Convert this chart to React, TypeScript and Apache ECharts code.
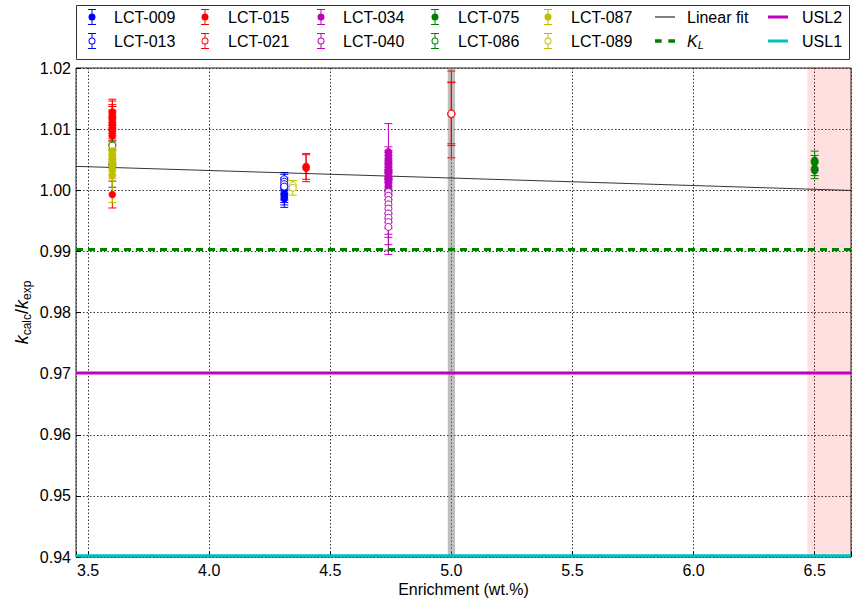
import React, { useEffect, useRef } from "react";
import * as echarts from "echarts";

const FONT = "'Liberation Sans', Arial, Helvetica, sans-serif";

// Axis ranges
const X_MIN = 3.45;
const X_MAX = 6.65;
const Y_MIN = 0.94;
const Y_MAX = 1.02;

// Benchmark results: [enrichment (wt.%), k_calc/k_exp, 1-sigma uncertainty]
const lct009 = [
  [4.31, 0.9995, 0.0011],
  [4.31, 0.9992, 0.0012],
  [4.31, 0.9989, 0.0013],
  [4.31, 0.9986, 0.0014],
];
const lct013 = [
  [4.31, 1.0018, 0.0011],
  [4.31, 1.0014, 0.0012],
  [4.31, 1.001, 0.0011],
  [4.31, 1.0006, 0.0012],
];
const lct015 = [
  [3.6, 1.0128, 0.0021],
  [3.6, 1.0124, 0.0022],
  [3.6, 1.0119, 0.0021],
  [3.6, 1.0115, 0.0022],
  [3.6, 1.011, 0.0021],
  [3.6, 1.0106, 0.0022],
  [3.6, 1.0101, 0.002],
  [3.6, 1.0096, 0.0021],
  [3.6, 1.0089, 0.0022],
  [3.6, 0.9993, 0.0022],
  [4.4, 1.0039, 0.0021],
  [4.4, 1.0036, 0.0022],
];
const lct021 = [
  [5.0, 1.0124, 0.0071],
  [5.0, 1.0126, 0.005],
  [5.0, 1.0125, 0.0052],
];
const lct034 = [
  [4.74, 1.0063, 0.0046],
  [4.74, 1.0058, 0.0013],
  [4.74, 1.0053, 0.0012],
  [4.74, 1.0048, 0.0014],
  [4.74, 1.0044, 0.0013],
  [4.74, 1.0039, 0.0012],
  [4.74, 1.0034, 0.0014],
  [4.74, 1.003, 0.0013],
  [4.74, 1.0025, 0.0012],
  [4.74, 1.002, 0.0014],
  [4.74, 1.0015, 0.0013],
  [4.74, 1.001, 0.0012],
  [4.74, 1.0005, 0.0013],
];
const lct040 = [
  [4.74, 0.9997, 0.0035],
  [4.74, 0.9991, 0.0038],
  [4.74, 0.9984, 0.0036],
  [4.74, 0.9977, 0.004],
  [4.74, 0.997, 0.0042],
  [4.74, 0.9962, 0.0039],
  [4.74, 0.9955, 0.0044],
  [4.74, 0.9948, 0.0046],
  [4.74, 0.994, 0.0045],
];
const lct075 = [
  [6.5, 1.0049, 0.0015],
  [6.5, 1.0045, 0.0012],
  [6.5, 1.0036, 0.0012],
  [6.5, 1.0032, 0.0013],
];
const lct086 = [
  [3.6, 1.0073, 0.0033],
  [3.6, 1.0042, 0.0037],
];
const lct087 = [
  [3.6, 1.0064, 0.0012],
  [3.6, 1.0059, 0.0013],
  [3.6, 1.0055, 0.0012],
  [3.6, 1.0051, 0.0014],
  [3.6, 1.0047, 0.0012],
  [3.6, 1.0043, 0.0013],
  [3.6, 1.0038, 0.0012],
  [3.6, 1.0033, 0.0014],
  [3.6, 1.0024, 0.0044],
];
const lct089 = [
  [4.345, 1.0008, 0.0008],
  [4.345, 1.0004, 0.0012],
];

// Linear fit of k_calc/k_exp against enrichment
const fitSlope = -0.00123;
const fitIntercept = 1.00815;

// Limits
const kL = 0.9903;
const usl2 = 0.9701;
const usl1 = 0.9402;

// Shaded enrichment ranges
const bandAt5 = [4.985, 5.015];
const bandHigh = [6.47, 6.65];

const BLUE = "#0000ff";
const RED = "#ff0000";
const MAGENTA = "#bf00bf";
const GREEN = "#008000";
const OLIVE = "#bfbf00";
const CYAN = "#00bfbf";

// Legend icons (8 x 16 error-bar glyphs, thin/thick line glyphs)
const ICON_ERR_FILLED =
  "path://M0 0H8V1H0Z M0 15H8V16H0Z M3.5 1H4.5V4.5H3.5Z M3.5 11.5H4.5V15H3.5Z " +
  "M0.5 8A3.5 3.5 0 1 1 7.5 8A3.5 3.5 0 1 1 0.5 8Z";
const ICON_ERR_HOLLOW =
  "path://M0 0H8V1H0Z M0 15H8V16H0Z M3.5 1H4.5V4.5H3.5Z M3.5 11.5H4.5V15H3.5Z " +
  "M0.5 8A3.5 3.5 0 1 1 7.5 8A3.5 3.5 0 1 1 0.5 8Z M1.5 8A2.5 2.5 0 1 0 6.5 8A2.5 2.5 0 1 0 1.5 8Z";
const ICON_THIN = "path://M0 0H20V1H0Z";
const ICON_THICK = "path://M0 0H20V3H0Z";
const ICON_DASHED = "path://M0 0H6V3H0Z M12 0H18V3H12Z";

function errorBars(name: string, data: number[][], color: string) {
  return {
    type: "custom",
    name,
    data,
    clip: true,
    silent: true,
    encode: { x: 0, y: 1 },
    z: 2,
    renderItem: (_params: any, api: any) => {
      const x = api.value(0);
      const y = api.value(1);
      const s = api.value(2);
      const top = api.coord([x, y + s]);
      const bot = api.coord([x, y - s]);
      const hw = 4;
      const st = { stroke: color, lineWidth: 1 };
      return {
        type: "group",
        children: [
          { type: "line", shape: { x1: top[0], y1: top[1], x2: bot[0], y2: bot[1] }, style: st },
          { type: "line", shape: { x1: top[0] - hw, y1: top[1], x2: top[0] + hw, y2: top[1] }, style: st },
          { type: "line", shape: { x1: bot[0] - hw, y1: bot[1], x2: bot[0] + hw, y2: bot[1] }, style: st },
        ],
      };
    },
  };
}

function markers(name: string, data: number[][], color: string, hollow: boolean) {
  return {
    type: "scatter",
    name,
    data: data.map((d) => [d[0], d[1]]),
    symbol: "circle",
    symbolSize: 7,
    silent: true,
    z: 2,
    itemStyle: hollow
      ? { color: "#ffffff", borderColor: color, borderWidth: 1, opacity: 1 }
      : { color, borderColor: color, borderWidth: 0.5, opacity: 1 },
  };
}

function hLine(name: string, value: number, color: string, width: number, type: any, extra: any = {}) {
  return {
    type: "line",
    name,
    data: [
      [X_MIN, value],
      [X_MAX, value],
    ],
    symbol: "none",
    silent: true,
    z: 2,
    lineStyle: { color, width, type },
    itemStyle: { color },
    ...extra,
  };
}

const groups = [
  { name: "LCT-009", data: lct009, color: BLUE, hollow: false },
  { name: "LCT-013", data: lct013, color: BLUE, hollow: true },
  { name: "LCT-015", data: lct015, color: RED, hollow: false },
  { name: "LCT-021", data: lct021, color: RED, hollow: true },
  { name: "LCT-034", data: lct034, color: MAGENTA, hollow: false },
  { name: "LCT-040", data: lct040, color: MAGENTA, hollow: true },
  { name: "LCT-075", data: lct075, color: GREEN, hollow: false },
  { name: "LCT-086", data: lct086, color: GREEN, hollow: true },
  { name: "LCT-087", data: lct087, color: OLIVE, hollow: false },
  { name: "LCT-089", data: lct089, color: OLIVE, hollow: true },
];

function errItem(name: string) {
  const g = groups.find((x) => x.name === name)!;
  return {
    name,
    icon: g.hollow ? ICON_ERR_HOLLOW : ICON_ERR_FILLED,
    itemStyle: { color: g.color, borderWidth: 0 },
  };
}

function legendColumn(left: number, itemWidth: number, pad: number, data: any[]) {
  return {
    orient: "vertical",
    left,
    top: 9,
    padding: 0,
    itemGap: 8,
    itemWidth,
    itemHeight: 16,
    symbolKeepAspect: true,
    selectedMode: false,
    data,
    formatter: (name: string) => (name === "KL" ? "{i|K}{sub|L}" : name),
    textStyle: {
      fontFamily: FONT,
      fontSize: 16,
      color: "#000",
      padding: [0, 0, 0, pad],
      rich: {
        i: { fontFamily: FONT, fontSize: 16, fontStyle: "italic", color: "#000", lineHeight: 18 },
        sub: { fontFamily: FONT, fontSize: 11, fontStyle: "italic", color: "#000", verticalAlign: "bottom" },
      },
    },
  };
}

export default function App() {
  const ref = useRef<HTMLDivElement>(null);

  useEffect(() => {
    if (!ref.current) return;
    const chart = echarts.init(ref.current, undefined, { renderer: "svg" });

    const fit = (x: number) => fitIntercept + fitSlope * x;

    const series: any[] = [
      hLine("USL1", usl1, CYAN, 3, "solid", {
        markArea: {
          silent: true,
          data: [
            [{ xAxis: bandAt5[0], itemStyle: { color: "rgba(128,128,128,0.5)" } }, { xAxis: bandAt5[1] }],
            [{ xAxis: bandHigh[0], itemStyle: { color: "rgba(255,0,0,0.12)" } }, { xAxis: bandHigh[1] }],
          ],
        },
      }),
      hLine("USL2", usl2, MAGENTA, 3, "solid"),
      hLine("KL", kL, GREEN, 3, [7, 5]),
      {
        type: "line",
        name: "Linear fit",
        data: [
          [X_MIN, fit(X_MIN)],
          [X_MAX, fit(X_MAX)],
        ],
        symbol: "none",
        silent: true,
        z: 2,
        lineStyle: { color: "#000", width: 0.8 },
        itemStyle: { color: "#000" },
      },
    ];
    groups.forEach((g) => {
      series.push(errorBars(g.name, g.data, g.color));
      series.push(markers(g.name, g.data, g.color, g.hollow));
    });

    const option: any = {
      animation: false,
      backgroundColor: "#ffffff",
      textStyle: { fontFamily: FONT },
      grid: {
        left: 76,
        right: 5,
        top: 68,
        bottom: 43,
        show: true,
        borderColor: "#222",
        borderWidth: 1,
        backgroundColor: "transparent",
        containLabel: false,
      },
      xAxis: {
        type: "value",
        min: X_MIN,
        max: X_MAX,
        minInterval: 0.5,
        maxInterval: 0.5,
        splitNumber: 6,
        axisLine: { show: false },
        axisTick: { show: true, inside: true, length: 5, lineStyle: { color: "#000" } },
        axisLabel: {
          fontFamily: FONT,
          fontSize: 16,
          color: "#000",
          margin: 5,
          showMinLabel: true,
          showMaxLabel: true,
          formatter: (v: number) => (Math.abs(v * 2 - Math.round(v * 2)) < 1e-6 ? v.toFixed(1) : ""),
        },
        splitLine: { show: true, lineStyle: { color: "#333", width: 1, type: [1.5, 2] } },
        name: "Enrichment (wt.%)",
        nameLocation: "middle",
        nameGap: 24,
        nameMoveOverlap: false,
        nameTextStyle: { fontFamily: FONT, fontSize: 16, color: "#000" },
      },
      yAxis: {
        type: "value",
        min: Y_MIN,
        max: Y_MAX,
        interval: 0.01,
        axisLine: { show: false },
        axisTick: { show: true, inside: true, length: 5, lineStyle: { color: "#000" } },
        axisLabel: {
          fontFamily: FONT,
          fontSize: 16,
          color: "#000",
          margin: 5,
          formatter: (v: number) => v.toFixed(2),
        },
        splitLine: { show: true, lineStyle: { color: "#333", width: 1, type: [1.5, 2] } },
        name: "{k|k}{s|calc}{n|/}{k|k}{s|exp}",
        nameLocation: "middle",
        nameGap: 43,
        nameRotate: 90,
        nameMoveOverlap: false,
        nameTextStyle: {
          rich: {
            k: { fontFamily: FONT, fontSize: 18, fontStyle: "italic", color: "#000", lineHeight: 22 },
            n: { fontFamily: FONT, fontSize: 18, color: "#000", lineHeight: 22 },
            s: { fontFamily: FONT, fontSize: 12, color: "#000", verticalAlign: "bottom" },
          },
        },
      },
      legend: [
        legendColumn(88, 8, 13, [errItem("LCT-009"), errItem("LCT-013")]),
        legendColumn(201, 8, 14, [errItem("LCT-015"), errItem("LCT-021")]),
        legendColumn(317, 8, 13, [errItem("LCT-034"), errItem("LCT-040")]),
        legendColumn(431, 8, 14, [errItem("LCT-075"), errItem("LCT-086")]),
        legendColumn(544, 8, 14, [errItem("LCT-087"), errItem("LCT-089")]),
        legendColumn(655, 20, 7, [
          { name: "Linear fit", icon: ICON_THIN, itemStyle: { color: "#000", borderWidth: 0 } },
          { name: "KL", icon: ICON_DASHED, itemStyle: { color: GREEN, borderWidth: 0 } },
        ]),
        legendColumn(768, 20, 9, [
          { name: "USL2", icon: ICON_THICK, itemStyle: { color: MAGENTA, borderWidth: 0 } },
          { name: "USL1", icon: ICON_THICK, itemStyle: { color: CYAN, borderWidth: 0 } },
        ]),
      ],
      graphic: [
        {
          type: "rect",
          silent: true,
          z: 0,
          shape: { x: 76.5, y: 5.5, width: 773, height: 54 },
          style: { fill: "none", stroke: "#333", lineWidth: 1 },
        },
      ],
      series,
    };

    chart.setOption(option);
    return () => chart.dispose();
  }, []);

  return (
    <div
      ref={ref}
      style={{ position: "fixed", left: 0, top: 0, width: 856, height: 602, background: "#fff" }}
    />
  );
}
